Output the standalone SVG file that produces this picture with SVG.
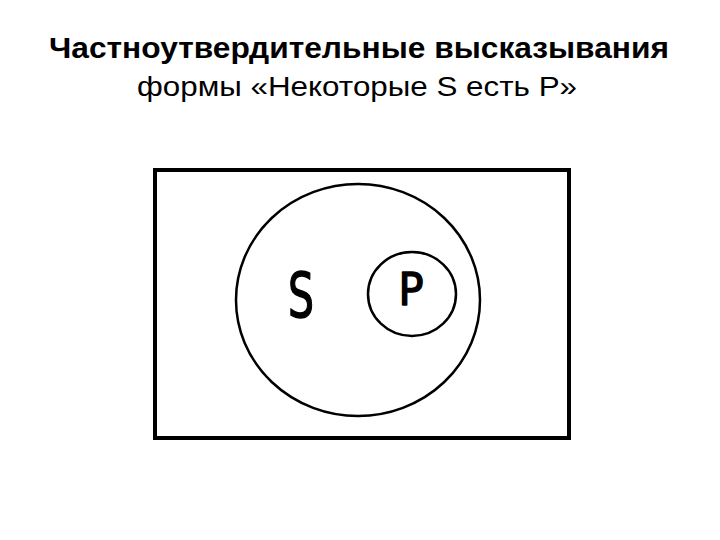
<svg xmlns="http://www.w3.org/2000/svg" width="720" height="540" viewBox="0 0 720 540">
<style>
.title{font-family:"Liberation Sans",Arial,sans-serif;fill:#000;text-anchor:middle}
.shape{fill:none;stroke:#000}
.lbl{font-family:"DejaVu Sans","Liberation Sans",sans-serif;fill:#000;stroke:#000;stroke-width:1.5;stroke-linejoin:round;text-anchor:middle}
</style>
<rect width="720" height="540" fill="#fff"/>
<text class="title" x="359" y="58" font-size="30" font-weight="bold" textLength="620" lengthAdjust="spacingAndGlyphs">Частноутвердительные высказывания</text>
<text class="title" x="357" y="96" font-size="28" textLength="440" lengthAdjust="spacingAndGlyphs">формы «Некоторые S есть P»</text>
<g id="universe"><rect class="shape" x="155" y="170" width="414" height="268" stroke-width="4"/></g>
<g id="S"><ellipse class="shape" cx="358" cy="300" rx="122" ry="116" stroke-width="2.5"/>
<text class="lbl" x="301" y="317" font-size="62" textLength="26" lengthAdjust="spacingAndGlyphs">S</text></g>
<g id="P"><ellipse class="shape" cx="412" cy="294" rx="44" ry="42" stroke-width="2.5"/>
<text class="lbl" x="411" y="305" font-size="44" textLength="25" lengthAdjust="spacingAndGlyphs">P</text></g>
<g id="connectors"/>
</svg>
